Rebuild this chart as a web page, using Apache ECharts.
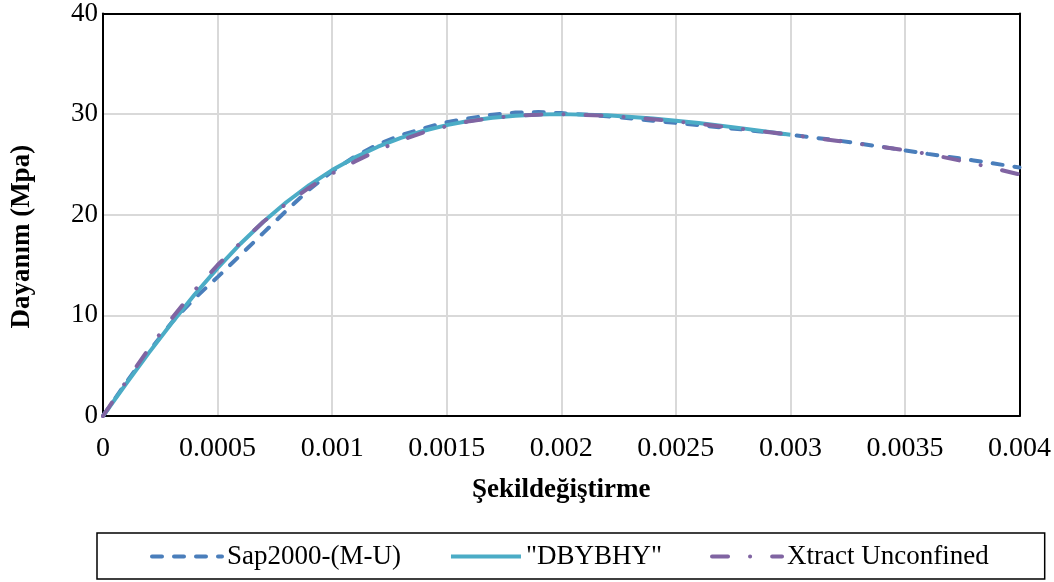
<!DOCTYPE html>
<html>
<head>
<meta charset="utf-8">
<script src="https://cdn.jsdelivr.net/npm/echarts@6/dist/echarts.min.js"></script>
<style>html,body{margin:0;padding:0;background:#fff}#c{width:1054px;height:582px}</style>
</head>
<body>
<div id="c"></div>
<script>
const seriesNames = ['Sap2000-(M-U)', '"DBYBHY"', 'Xtract Unconfined'];
const xTicks = [0, 0.0005, 0.001, 0.0015, 0.002, 0.0025, 0.003, 0.0035, 0.004];
const yTicks = [0, 10, 20, 30, 40];

const sapStrain = [0,0.0001,0.0002,0.0003,0.0004,0.0005,0.0006,0.0007,0.0008,0.0009,0.001,0.0011,0.0012,0.0013,0.0014,0.0015,0.0016,0.0017,0.0018,0.0019,0.002,0.0022,0.0024,0.0026,0.0028,0.003,0.0032,0.0034,0.0036,0.0038,0.004];
const sapStress = [0,3.3,6.4,9.3,11.7,13.8,16.0,18.2,20.4,22.5,24.3,25.8,27.0,27.9,28.6,29.2,29.6,29.95,30.15,30.2,30.1,29.8,29.35,28.9,28.45,27.95,27.4,26.75,26.05,25.4,24.7];

const dbStrain = [0,0.0001,0.0002,0.0003,0.0004,0.0005,0.0006,0.0007,0.0008,0.0009,0.001,0.0011,0.0012,0.0013,0.0014,0.0015,0.0016,0.0017,0.0018,0.0019,0.002,0.0022,0.0024,0.0026,0.0028,0.003];
const dbStress = [0,3.17,6.27,9.25,12.08,14.7,17.12,19.3,21.24,22.95,24.44,25.7,26.76,27.64,28.35,28.91,29.34,29.65,29.85,29.96,30.0,29.88,29.56,29.11,28.56,27.96];

const xtStrain = [0,0.0001,0.0002,0.0003,0.0004,0.0005,0.0006,0.0007,0.0008,0.0009,0.001,0.0011,0.0012,0.0013,0.0014,0.0015,0.0016,0.0017,0.0018,0.0019,0.002,0.0022,0.0024,0.0026,0.0028,0.003,0.0032,0.0034,0.0036,0.0038,0.004];
const xtStress = [0,3.4,6.7,9.7,12.5,15.0,17.2,19.3,21.1,22.7,24.1,25.3,26.4,27.4,28.2,28.8,29.3,29.6,29.85,29.95,30.0,29.85,29.5,29.05,28.5,27.95,27.35,26.75,26.05,25.1,24.0];

const pairs = (xs, ys) => xs.map((x, i) => [x, ys[i]]);
const FONT = 'Liberation Serif';
const frame = {show: true, onZero: false, lineStyle: {color: '#000', width: 2}};

const chart = echarts.init(document.getElementById('c'), null, {renderer: 'canvas'});
chart.setOption({
  animation: false,
  backgroundColor: '#fff',
  grid: {left: 103, right: 34, top: 12, bottom: 166},
  xAxis: [{
    type: 'value', min: xTicks[0], max: xTicks[xTicks.length - 1], interval: 0.0005,
    name: 'Şekildeğiştirme', nameLocation: 'middle', nameGap: 61,
    nameTextStyle: {fontFamily: FONT, fontSize: 27, fontWeight: 'bold', color: '#000'},
    axisLine: frame,
    axisTick: {show: false},
    axisLabel: {fontFamily: FONT, fontSize: 28, color: '#000', margin: 19,
      formatter: v => String(parseFloat(v.toFixed(4)))},
    splitLine: {show: true, lineStyle: {color: '#d9d9d9', width: 2}}
  }, {
    type: 'value', position: 'top', min: xTicks[0], max: xTicks[xTicks.length - 1],
    axisLine: frame, axisTick: {show: false}, axisLabel: {show: false}, splitLine: {show: false}
  }],
  yAxis: [{
    type: 'value', min: yTicks[0], max: yTicks[yTicks.length - 1], interval: 10,
    name: 'Dayanım (Mpa)', nameLocation: 'middle', nameGap: 67, nameRotate: 90,
    nameTextStyle: {fontFamily: FONT, fontSize: 27, fontWeight: 'bold', color: '#000', padding: [0, 44, 0, 0]},
    axisLine: frame,
    axisTick: {show: false},
    axisLabel: {fontFamily: FONT, fontSize: 27, color: '#000', margin: 5},
    splitLine: {show: true, lineStyle: {color: '#d9d9d9', width: 2}}
  }, {
    type: 'value', position: 'right', min: yTicks[0], max: yTicks[yTicks.length - 1],
    axisLine: frame, axisTick: {show: false}, axisLabel: {show: false}, splitLine: {show: false}
  }],
  legend: {
    left: 97, top: 533, width: 1000, orient: 'horizontal',
    borderColor: '#000', borderWidth: 1.5,
    padding: [10, 56, 9, 53],
    itemWidth: 70, itemHeight: 14, itemGap: 48,
    itemStyle: {opacity: 0},
    lineStyle: {width: 4},
    textStyle: {fontFamily: FONT, fontSize: 27, color: '#000'},
    data: seriesNames
  },
  series: [
    {name: seriesNames[0], type: 'line', symbol: 'none', z: 2,
     data: pairs(sapStrain, sapStress),
     lineStyle: {color: '#4a7ebb', width: 4, type: [10, 12], cap: 'round'},
     itemStyle: {color: '#4a7ebb'}},
    {name: seriesNames[1], type: 'line', symbol: 'none', z: 3,
     data: pairs(dbStrain, dbStress),
     lineStyle: {color: '#4bacc6', width: 4, type: 'solid'},
     itemStyle: {color: '#4bacc6'}},
    {name: seriesNames[2], type: 'line', symbol: 'none', z: 4,
     data: pairs(xtStrain, xtStress),
     lineStyle: {color: '#8064a2', width: 4, type: [16, 22, 0.1, 22], cap: 'round'},
     itemStyle: {color: '#8064a2'}}
  ]
});
</script>
</body>
</html>
